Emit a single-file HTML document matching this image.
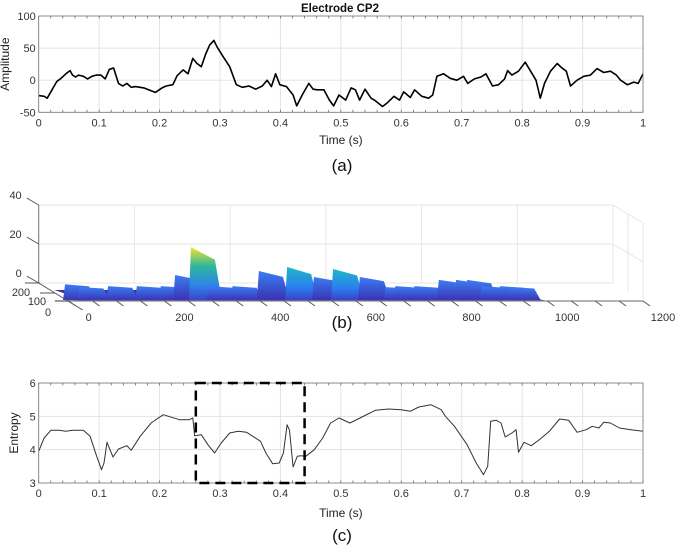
<!DOCTYPE html>
<html><head><meta charset="utf-8"><style>
body{margin:0;background:#fff}
svg{display:block;font-family:"Liberation Sans",Arial,sans-serif}
</style></head><body>
<svg id="s" width="685" height="546" viewBox="0 0 685 546">
<defs>
<linearGradient id="gy" x1="0" y1="0" x2="0" y2="1"><stop offset="0" stop-color="#f9e02a"/><stop offset="0.35" stop-color="#2cb89a"/><stop offset="0.7" stop-color="#2e86e8"/><stop offset="1" stop-color="#3a3fc8"/></linearGradient>
<linearGradient id="gc" x1="0" y1="0" x2="0" y2="1"><stop offset="0" stop-color="#1fb8c4"/><stop offset="0.6" stop-color="#2b7ef0"/><stop offset="1" stop-color="#3b3ec4"/></linearGradient>
<linearGradient id="gb" x1="0" y1="0" x2="0" y2="1"><stop offset="0" stop-color="#3b7df5"/><stop offset="1" stop-color="#3a30b0"/></linearGradient>
</defs>
<g id="a"></g>
<g id="b"></g>
<g id="c"></g>
</svg>
<script>
// Panel (a) data
const ampT=[0,0.009,0.014,0.022,0.03,0.037,0.045,0.052,0.056,0.061,0.066,0.074,0.081,0.088,0.095,0.103,0.11,0.117,0.124,0.132,0.139,0.146,0.153,0.16,0.174,0.193,0.204,0.211,0.222,0.229,0.239,0.247,0.255,0.262,0.269,0.276,0.283,0.29,0.295,0.305,0.316,0.327,0.337,0.348,0.359,0.37,0.378,0.385,0.392,0.399,0.41,0.421,0.427,0.436,0.447,0.454,0.461,0.472,0.481,0.488,0.497,0.508,0.517,0.524,0.531,0.54,0.55,0.557,0.569,0.577,0.588,0.597,0.604,0.615,0.622,0.634,0.645,0.652,0.659,0.67,0.681,0.692,0.703,0.71,0.721,0.732,0.74,0.751,0.761,0.771,0.776,0.783,0.794,0.805,0.823,0.83,0.837,0.847,0.858,0.866,0.873,0.88,0.891,0.902,0.913,0.924,0.935,0.946,0.956,0.963,0.974,0.985,0.992,1.0];
const ampV=[-24,-25,-28,-15,-2,3,10,15,8,5,8,6,2,6,8,8,2,17,19,-5,-9,-5,-11,-10,-12,-19,-12,-9,-7,7,16,10,34,26,21,40,55,62,52,37,21,-7,-11,-9,-14,-9,0,-10,10,-7,-10,-23,-40,-23,-5,-14,-15,-15,-31,-40,-23,-31,-12,-15,-31,-14,-28,-32,-41,-35,-25,-31,-18,-27,-15,-25,-28,-23,6,10,3,0,6,-5,2,5,10,-9,-7,2,15,8,14,28,0,-28,-5,14,26,19,14,-9,0,6,8,18,12,14,8,0,-7,-3,-5,10];
const ampXTicks=[0,0.1,0.2,0.3,0.4,0.5,0.6,0.7,0.8,0.9,1];
const ampYTicks=[-50,0,50,100];
// Panel (b) data
const peakIdx=[30,60,120,180,230,260,293,330,380,435,494,550,590,646,700,720,760,811,847,870,900,939,960];
const peakZ=[4,2.5,3,3,3,8.7,23,3,3,10.8,12.8,7.7,11.8,7.7,2.5,3,3,6.2,6.2,6.2,3,3,2.5];
const surfXTicks=[0,200,400,600,800,1000,1200];
const surfZTicks=[0,20,40];
const surfYTicks=[0,100,200];
// Panel (c) data
const entT=[0,0.009,0.02,0.034,0.045,0.056,0.074,0.085,0.096,0.104,0.108,0.113,0.118,0.123,0.132,0.146,0.153,0.168,0.186,0.206,0.233,0.249,0.255,0.258,0.269,0.28,0.291,0.302,0.316,0.33,0.344,0.367,0.376,0.387,0.398,0.405,0.411,0.415,0.421,0.428,0.434,0.442,0.456,0.47,0.483,0.497,0.515,0.535,0.557,0.579,0.6,0.615,0.629,0.649,0.666,0.673,0.688,0.709,0.724,0.736,0.743,0.748,0.757,0.765,0.772,0.783,0.79,0.794,0.803,0.815,0.83,0.845,0.862,0.877,0.891,0.906,0.916,0.927,0.935,0.946,0.961,0.98,1.0];
const entV=[3.95,4.35,4.58,4.58,4.55,4.58,4.58,4.4,3.8,3.4,3.6,4.22,4.0,3.78,4.02,4.12,3.98,4.4,4.8,5.05,4.9,4.9,4.95,4.42,4.45,4.15,3.9,4.2,4.5,4.55,4.52,4.25,3.9,3.58,3.6,3.9,4.75,4.58,3.48,3.8,3.82,3.8,4.0,4.35,4.8,4.95,4.8,4.98,5.18,5.22,5.2,5.15,5.28,5.35,5.2,5.0,4.7,4.15,3.6,3.25,3.5,4.85,4.88,4.8,4.38,4.5,4.6,3.92,4.22,4.12,4.32,4.55,4.92,4.88,4.52,4.6,4.7,4.65,4.82,4.8,4.65,4.6,4.55];
const entXTicks=[0,0.1,0.2,0.3,0.4,0.5,0.6,0.7,0.8,0.9,1];
const entYTicks=[3,4,5,6];
const boxRange=[0.26,0.44];

const NS='http://www.w3.org/2000/svg';
function mk(p,tag,at,txt){const e=document.createElementNS(NS,tag);for(const k in at)e.setAttribute(k,at[k]);if(txt!==undefined)e.textContent=txt;p.appendChild(e);return e;}

function panel2d(g,T,V,xt,yt,L,R,Tp,B,ymin,ymax,lineW,lineC,ylab,ylx,xlabY,capY,cap){
  const sx=t=>L+(R-L)*t, sy=v=>B-(B-Tp)*(v-ymin)/(ymax-ymin);
  mk(g,'rect',{x:L,y:Tp,width:R-L,height:B-Tp,fill:'#fff'});
  xt.forEach(t=>{
    const l=mk(g,'line',{x1:sx(t),x2:sx(t),y1:Tp,y2:B,stroke:'#e3e3e3','stroke-width':1});
    
    
    const tx=mk(g,'text',{x:sx(t),y:B+14,'font-size':11,'text-anchor':'middle',fill:'#333'},String(t));
    
    
  });
  yt.forEach(v=>{
    const l=mk(g,'line',{x1:L,x2:R,y1:sy(v),y2:sy(v),stroke:'#e3e3e3','stroke-width':1});
    
    
    const tx=mk(g,'text',{x:L-3,y:sy(v)+4,'font-size':11,'text-anchor':'end',fill:'#333'},String(v));
    
    
  });
  for(let i=0;i<=50;i++){const x=L+(R-L)*i/50;mk(g,'line',{x1:x,x2:x,y1:Tp,y2:Tp+2.5,stroke:'#555','stroke-width':0.7});mk(g,'line',{x1:x,x2:x,y1:B,y2:B-2.5,stroke:'#555','stroke-width':0.7});}
  const pts=T.map((t,i)=>sx(t).toFixed(1)+','+sy(V[i]).toFixed(1)).join(' ');
  const pl=mk(g,'polyline',{points:pts,fill:'none',stroke:lineC,'stroke-width':lineW,'stroke-linejoin':'round'});
  
  
  const fr=mk(g,'rect',{x:L,y:Tp,width:R-L,height:B-Tp,fill:'none',stroke:'#777','stroke-width':0.8});
  
  
  const yl=mk(g,'text',{x:ylx,y:(Tp+B)/2,'font-size':12,'text-anchor':'middle',fill:'#222',transform:`rotate(-90 ${ylx} ${(Tp+B)/2})`},ylab);
  
  
  const xl=mk(g,'text',{x:(L+R)/2,y:xlabY,'font-size':12,'text-anchor':'middle',fill:'#222'},'Time (s)');
  
  
  const cp=mk(g,'text',{x:342,y:capY,'font-size':17,'text-anchor':'middle',fill:'#111'},cap);
  
  
  return {sx,sy};
}

const ga=document.getElementById('a');
panel2d(ga,ampT,ampV,ampXTicks,ampYTicks,38.7,643,16,112.3,-50,100,1.6,'#000','Amplitude',9,144,171,'(a)');
const ti=mk(ga,'text',{x:340,y:12,'font-size':11.5,'font-weight':'bold','text-anchor':'middle',fill:'#111'},'Electrode CP2');



const gc=document.getElementById('c');
const c=panel2d(gc,entT,entV,entXTicks,entYTicks,38.7,643,383,483,3,6,1,'#333','Entropy',18,517,541,'(c)');
const bx=mk(gc,'rect',{x:c.sx(boxRange[0]),y:c.sy(6),width:c.sx(boxRange[1])-c.sx(boxRange[0]),height:c.sy(3)-c.sy(6),fill:'none',stroke:'#000','stroke-width':2.5,'stroke-dasharray':'10,6'});



// Panel (b)
const gb=document.getElementById('b');
const BL=38.7,BS=0.4786,BB=283,ZS=1.95,DX=30,DY=18;
const bxp=t=>BL+BS*t, bzp=z=>BB-ZS*z;
surfXTicks.forEach(t=>{mk(gb,'line',{x1:bxp(t),x2:bxp(t),y1:bzp(40),y2:BB,stroke:'#e6e6e6'});});
surfZTicks.forEach(z=>{mk(gb,'line',{x1:BL,x2:bxp(1200),y1:bzp(z),y2:bzp(z),stroke:'#e6e6e6'});});
mk(gb,'line',{x1:bxp(1200),y1:bzp(40),x2:bxp(1200)+DX,y2:bzp(40)+DY,stroke:'#e6e6e6'});
mk(gb,'line',{x1:bxp(1200),y1:bzp(20),x2:bxp(1200)+DX,y2:bzp(20)+DY,stroke:'#e6e6e6'});
mk(gb,'line',{x1:bxp(1200)+DX,y1:bzp(40)+DY,x2:bxp(1200)+DX,y2:BB+DY,stroke:'#e6e6e6'});
mk(gb,'line',{x1:bxp(1200)+15,y1:bzp(40)+9,x2:bxp(1200)+15,y2:BB+9,stroke:'#e6e6e6'});
mk(gb,'line',{x1:BL,y1:BB,x2:bxp(1200),y2:BB,stroke:'#e6e6e6'});
mk(gb,'line',{x1:BL,y1:bzp(40),x2:BL,y2:BB,stroke:'#777'});
const band=mk(gb,'polygon',{points:`${bxp(20)+6},${BB+7} ${bxp(960)},${BB+7} ${bxp(1000)+DX},${BB+DY} ${bxp(40)+DX},${BB+DY}`,fill:'#3a2fae'});


peakIdx.forEach((t,i)=>{
  const z=peakZ[i],px=bxp(t)+12,py=292-z*ZS;
  const fill=z>18?'url(#gy)':(z>11?'url(#gc)':'url(#gb)');
  const p=mk(gb,'polygon',{points:`${px-2},300 ${px},${py} ${px+24},${py+z*0.55} ${px+31},301`,fill:fill});
  
  
});
mk(gb,'line',{x1:bxp(0)+DX-14,y1:BB+DY,x2:bxp(1200)+DX,y2:BB+DY,stroke:'#888','stroke-width':1.2});
mk(gb,'line',{x1:BL,y1:BB,x2:BL+DX+14,y2:BB+DY+9,stroke:'#555'});
surfXTicks.forEach(t=>{
  const x=bxp(t)+DX;
  for(let k=0;k<4;k++){const xx=x+k*BS*50;if(t+k*50<=1200)mk(gb,'line',{x1:xx,y1:BB+DY,x2:xx+7,y2:BB+DY+5,stroke:'#555'});}
  const tx=mk(gb,'text',{x:x+20,y:BB+DY+20,'font-size':11,'text-anchor':'middle',fill:'#333'},String(t));
  
  
});
surfZTicks.forEach(z=>{
  mk(gb,'line',{x1:BL-12,y1:bzp(z)-7,x2:BL,y2:bzp(z),stroke:'#555'});
  const tx=mk(gb,'text',{x:BL-17,y:bzp(z)-6,'font-size':11,'text-anchor':'end',fill:'#333'},String(z));
  
  
});
surfYTicks.forEach((v,i)=>{
  const y=[301,293,283][i],x0=[55,40,25][i];
  mk(gb,'line',{x1:x0,y1:y,x2:x0+15,y2:y,stroke:'#555'});
  const tx=mk(gb,'text',{x:[48,37,21][i],y:[316,305,296][i],'font-size':11,'text-anchor':'middle',fill:'#333'},String(v));
  
  
});
const cb=mk(gb,'text',{x:342,y:328,'font-size':17,'text-anchor':'middle',fill:'#111'},'(b)');


</script>
</body></html>
